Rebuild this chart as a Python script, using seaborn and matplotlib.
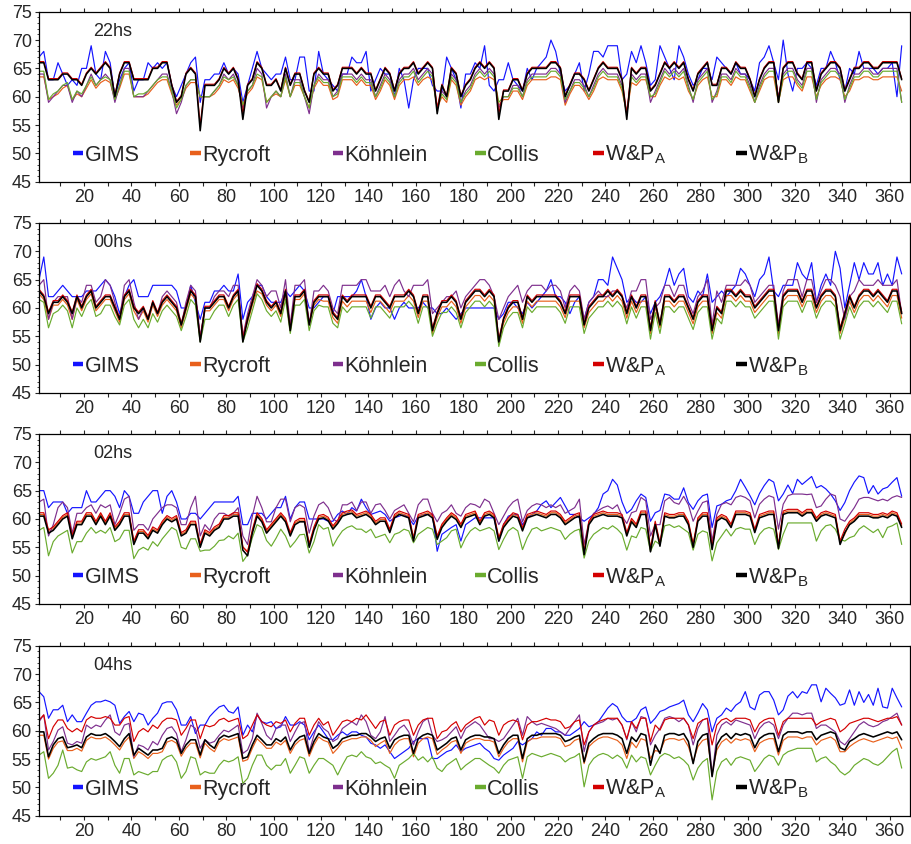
import matplotlib
matplotlib.use("Agg")
import matplotlib.pyplot as plt
import pandas as pd
import seaborn as sns
from matplotlib.lines import Line2D
from matplotlib.ticker import FixedLocator, MultipleLocator

# ---------------- data ----------------
DAYS = list(range(1, 366, 2))
SERIES = ["GIMS", "Rycroft", "Köhnlein", "Collis", "W&P_A", "W&P_B"]
LEGEND_LABELS = ["GIMS", "Rycroft", "Köhnlein", "Collis",
                 r"W&P$_\mathregular{A}$", r"W&P$_\mathregular{B}$"]
COLORS = ["#1414ff", "#e8601c", "#7e2f8e", "#6aab2e", "#d40000", "#000000"]
PANELS = ["22hs", "00hs", "02hs", "04hs"]
Y_TICKS = [45, 50, 55, 60, 65, 70, 75]
X_TICKS = list(range(10, 361, 10))

# ---- 22hs ----
G22 = [67,68,63,63,66,64,62,63,62,65, 65,69,64,63,68,66,60,63,65,66, 61,63,63,66,65,66,65,66,62,60, 62,64,66,67,59,63,63,64,64,66, 64,65,64,59,62,65,68,65,64,63, 64,64,67,63,63,67,67,61,61,68,
       64,63,62,61,64,64,67,66,66,68, 61,63,65,64,64,60,65,63,58,63, 65,65,65,62,61,61,67,65,63,58, 64,64,66,65,69,62,61,63,63,66, 63,62,61,65,63,65,66,67,70,68, 64,61,62,64,66,61,64,68,68,67, 69,69,69,
       63,64,68,66,69,66,62,63,69,67, 65,63,69,67,64,62,63,65,65,63, 67,66,65,64,66,64,64,63,61,66, 67,69,66,63,70,64,61,65,65,66, 65,62,65,65,68,66,63,61,65,64, 68,65,65,65,64,65,65,66,60,69]
R22 = [63.5,63.5,59.5,60,60.5,61.5,62,59.5,60.5,60, 61.5,63,61.5,62.5,63,62.5,59.5,61.5,64,64, 60,60,60,60.5,61.5,62.5,63,63,60.5,58.5, 59.5,61.5,62.5,62.5,60,60,60,60.5,61.5,63, 62.5,63,61.5,58.5,60.5,61.5,63.5,63,59,60, 60.5,60,63,60,62,62,60,58,61.5,63,
       62,62,59.5,60,63,63,63,62,63,62, 62,59.5,61,63,62,59.5,62,63,63,63.5, 62,63,63.5,63,58,60,59,63,62,58.5, 60,61,63,63.5,63,63.5,63,58.5,59.5,59.5, 61,61,59.5,62,63,63,63,63,63.5,63.5, 63,58.5,60.5,62,62,61,59.5,61,63,63.5, 63,63,63,
       61,57,62.5,62,63,63,60,60,62,63.5, 63,63.5,63,63.5,61,59.5,62,63,63.5,60, 60,63,63,62,63.5,63,63,61,59,61, 63,63.5,63.5,59,63,63.5,63.5,62,61,63.5, 63.5,60,62,63,63.5,63.5,63,60,61,63, 63,63.5,63.5,63,63,63.5,63.5,63.5,63.5,61]
K22 = [64,64,59,60,61,62,62,59,61,60, 62,64,62,63,64,63,59,62,65,65, 60,60,60,61,62,63,64,64,61,57, 59,62,63,63,60,60,60,61,62,64, 63,64,62,58,61,62,65,64,58,60, 61,60,64,60,63,63,60,57,62,64,
       63,63,60,61,64,64,64,63,64,63, 63,60,62,64,63,60,63,64,64,65, 63,64,65,64,58,61,60,64,63,59, 61,62,64,65,64,65,64,58,60,60, 62,62,60,63,64,64,64,64,65,65, 64,59,61,63,63,62,60,62,64,65, 64,64,64,
       62,57,64,63,64,64,59,61,63,65, 64,65,64,65,62,59,63,64,65,59, 61,64,64,63,65,64,64,62,59,62, 64,65,65,60,64,65,65,63,62,65, 65,59,63,64,65,65,64,59,62,64, 64,65,65,64,64,65,65,65,65,59]
C22 = [64.5,64.5,59.5,60.5,61,62,62.5,59.5,61,60.5, 62,63.5,62,63,63.5,63,59.5,62,64.5,64.5, 60,60.5,60.5,61,62,63,63.5,63.5,61,58, 59.5,62,63,63,60,60,60,61,62,63.5, 63,63.5,62,58.5,61,62,64,63.5,59,60, 61,60,63.5,60,62.5,62.5,60,58,62,63.5,
       62.5,62.5,60,60.5,63.5,63.5,63.5,62.5,63.5,62.5, 62.5,60,61.5,63.5,62.5,60,62.5,63.5,63.5,64.5, 62.5,63.5,64.5,63.5,58,60.5,59.5,63.5,62.5,59, 60.5,61.5,63.5,64.5,63.5,64.5,63.5,59,60,60, 61.5,61.5,60,62.5,63.5,63.5,63.5,63.5,64.5,64.5, 63.5,59.5,61,62.5,62.5,61.5,60,61.5,63.5,64.5, 63.5,63.5,63.5,
       61.5,57,63.5,62.5,63.5,63.5,60,60.5,62.5,64.5, 63.5,64.5,63.5,64.5,61.5,59.5,62.5,63.5,64.5,59.5, 60.5,63.5,63.5,62.5,64.5,63.5,63.5,61.5,59,61.5, 63.5,64.5,64.5,59,63.5,64.5,64.5,62.5,61.5,64.5, 64.5,59.5,62.5,63.5,64.5,64.5,63.5,59.5,61.5,63.5, 63.5,64.5,64.5,63.5,63.5,64.5,64.5,64.5,64.5,59]
A22 = [66.2,66.2,63.2,63.2,63.2,64.2,64.2,63.2,63.2,62.2, 64.2,65.2,64.2,65.2,66.2,65.2,60.2,64.2,66.2,66.2, 63.2,63.2,63.2,63.2,65.2,65.2,66.2,66.2,62.2,59.2, 60.2,64.2,65.2,64.2,55,62.2,62.2,62.2,63.2,65.2, 64.2,65.2,63.2,57,62.2,63.2,66.2,65.2,62.2,62.2, 63.2,61.2,65.2,62.2,64.2,64.2,61.2,59.2,64.2,65.2,
       64.2,64.2,61.2,62.2,65.2,65.2,65.2,64.2,65.2,64.2, 64.2,61.2,63.2,65.2,64.2,61.2,64.2,65.2,65.2,66.2, 64.2,65.2,66.2,65.2,58,62.2,60.2,65.2,64.2,60.2, 62.2,63.2,65.2,66.2,65.2,66.2,65.2,57,61.2,61.2, 63.2,63.2,61.2,64.2,65.2,65.2,65.2,65.2,66.2,66.2, 65.2,60.2,62.2,64.2,64.2,63.2,61.2,63.2,65.2,66.2, 65.2,65.2,65.2,
       63.2,57,65.2,64.2,65.2,65.2,61.2,62.2,64.2,66.2, 65.2,66.2,65.2,66.2,63.2,61.2,64.2,65.2,66.2,62.2, 62.2,65.2,65.2,64.2,66.2,65.2,65.2,63.2,60.2,63.2, 65.2,66.2,66.2,59.5,65.2,66.2,66.2,64.2,63.2,66.2, 66.2,61.2,64.2,65.2,66.2,66.2,65.2,61.2,63.2,65.2, 65.2,66.2,66.2,65.2,65.2,66.2,66.2,66.2,66.2,63.2]
B22 = [66,66,63,63,63,64,64,63,63,62, 64,65,64,65,66,65,60,64,66,66, 63,63,63,63,65,65,66,66,62,59, 60,64,65,64,54,62,62,62,63,65, 64,65,63,56,62,63,66,65,62,62, 63,61,65,62,64,64,61,59,64,65,
       64,64,61,62,65,65,65,64,65,64, 64,61,63,65,64,61,64,65,65,66, 64,65,66,65,57,62,60,65,64,60, 62,63,65,66,65,66,65,56,61,61, 63,63,61,64,65,65,65,65,66,66, 65,60,62,64,64,63,61,63,65,66, 65,65,65,
       63,56,65,64,65,65,61,62,64,66, 65,66,65,66,63,61,64,65,66,62, 62,65,65,64,66,65,65,63,60,63, 65,66,66,59,65,66,66,64,63,66, 66,61,64,65,66,66,65,61,63,65, 65,66,66,65,65,66,66,66,66,63]

# ---- 00hs ----
G00 = [65,69,62,62,63,64,63,62,62,62, 63,63,63,64,65,64,62,59,62,64, 65,62,62,62,64,64,64,64,64,63, 60,60,64,61,58,61,61,63,63,64, 63,63,66,58,61,62,64,64,62,61, 61,61,63,62,63,64,63,60,60,61,
       62,62,59,62,62,62,62,63,65,62, 58,60,61,60,60,58,60,61,60,60, 60,61,60,60,59,59,60,59,58,59, 60,60,60,60,60,60,60,58,59,61, 61,60,59,61,60,61,62,63,65,62, 62,61,59,61,62,58,61,62,65,65, 64,69,67,
       65,61,62,61,61,62,59,61,62,64, 67,64,66,67,62,61,63,62,66,61, 62,63,62,63,64,67,66,64,62,65, 66,69,63,62,64,64,64,68,66,65, 68,61,64,66,64,70,67,60,64,68, 65,68,66,66,68,64,66,64,69,66]
R00 = [62.5,61.5,58,60.5,60.5,61.5,60.5,58,61.5,59.5, 61.5,62.5,59.5,60.5,61.5,61.5,59.5,57.5,61.5,62.5, 59.5,58,59.5,57.5,60.5,58.5,60.5,61.5,60.5,59.5, 56.5,59.5,62.5,61.5,54.5,59.5,59.5,60.5,61.5,61.5, 59.5,61.5,62.5,55,57.5,60.5,63,62.5,60.5,59.5, 60.5,58.5,62.5,56,61.5,61.5,62.5,57,60.5,61.5,
       61.2,61.2,58.3,57.3,61.2,60.2,61.2,61.2,61.2,61.2, 59.2,61.2,61.2,60.2,59.2,61.2,61.2,61.2,62.2,61.2, 58.3,61.2,61.2,55.5,58.3,60.2,60.2,61.2,60.2,57.3, 60.2,61.2,62.2,62.2,61.2,62.2,61.2,53.8,57.3,59.2, 60.2,60.2,57.3,61.2,60.2,61.2,61.2,61.2,61.2,61.2, 60.2,58.3,61.2,61.2,61.2,56.5,59.2,60.2,61.2,61.2, 62.2,61.2,62.2,
       61.2,58.2,61.2,59.2,61.2,61.2,55.5,60.2,56.5,61.2, 61.2,60.2,61.2,61.2,59.2,57.2,60.2,61.2,61.2,55.5, 59.2,58.2,62.2,62.2,61.2,62.2,61.2,61.2,59.2,60.2, 61.2,62.2,62.2,55.5,61.2,62.2,62.2,62.2,60.2,62.2, 62.2,59.2,61.2,62.2,62.2,61.2,55.5,58.2,61.2,59.2, 61.2,62.2,62.2,61.2,62.2,61.2,60.2,62.2,62.2,58.2]
K00 = [64,65,58,61,62,62,62,58,62,61, 64,64,61,62,65,64,61,58,64,65, 61,58,60,58,61,59,62,63,62,61, 57,61,64,63,55,60,60,62,63,63, 62,64,64,55,59,62,65,64,62,63, 63,60,65,57,64,64,65,57,63,63,
       64,63,60,59,64,64,64,64,65,65, 63,63,63,64,62,64,65,63,62,64, 64,64,65,59,60,61,62,62,63,60, 62,63,64,65,65,64,62,58,60,62, 63,64,61,63,64,64,64,63,64,64, 63,60,63,64,63,58,61,62,63,62, 62,63,63,
       62,60,63,63,65,65,58,60,61,64, 64,62,64,64,61,59,62,63,65,57, 63,61,64,64,64,64,65,64,61,62, 63,64,64,57,63,65,65,65,62,65, 65,61,63,65,65,64,62,58,62,63, 65,64,64,64,65,64,64,64,65,59]
C00 = [61.5,61,56.5,59,59.5,60.5,59.5,56.5,60,58.5, 60.5,61.5,58.5,59,60.5,60.5,58.5,57,60.5,61.5, 58,56.5,58,56.5,59,57.5,59.5,60.5,59.5,58.5, 56,58.5,61.5,60.5,54,58,58,59.5,60.5,60.5, 58.5,60.5,61.5,54,56.5,59.5,62.5,61.5,59.5,58.5, 59.5,57.5,61.5,55.5,60.5,60.5,61.5,56,59.5,60.5,
       60.2,60.2,57.3,56.5,60.2,59.2,60.2,60.2,60.2,60.2, 58.2,60.2,60.2,59.2,58.2,60.2,60.2,60.2,61.2,60.2, 57.3,60.2,60.2,55,57.3,59.2,59.2,60.2,59.2,56.5, 59.2,60.2,61.2,61.2,60.2,61.2,60.2,53.2,56.5,58.2, 59.2,59.2,56.5,60.2,59.2,60.2,60.2,60.2,60.2,60.2, 59.2,57.3,60.2,60.2,60.2,55.5,58.2,59.2,60.2,60.2, 61.2,60.2,61.2,
       60.2,57.2,60.2,58.2,60.2,60.2,54.5,59.2,55.5,60.2, 60.2,59.2,60.2,60.2,58.2,56.2,59.2,60.2,60.2,54.5, 58.2,57.2,61.2,61.2,60.2,61.2,60.2,60.2,58.2,59.2, 60.2,61.2,61.2,54.5,60.2,61.2,61.2,61.2,59.2,61.2, 61.2,58.2,60.2,61.2,61.2,60.2,54.5,57.2,60.2,58.2, 60.2,61.2,61.2,60.2,61.2,60.2,59.2,61.2,61.2,57.2]
A00 = [63.3,62.3,59.3,61.3,61.3,62.3,61.3,59.3,62.3,60.3, 62.3,63.3,60.3,61.3,62.3,62.3,60.3,58.3,62.3,63.3, 60.3,59.3,60.3,58.3,61.3,59.3,61.3,62.3,61.3,60.3, 57.3,60.3,63.3,62.3,54.5,60.3,60.3,61.3,62.3,62.3, 60.3,62.3,63.3,54.8,58.3,61.3,64.3,63.3,61.3,60.3, 61.3,59.3,63.3,56.3,62.3,62.3,63.3,57.3,61.3,62.3,
       62.3,62.3,59.3,58.3,62.3,61.3,62.3,62.3,62.3,62.3, 60.3,62.3,62.3,61.3,60.3,62.3,62.3,62.3,63.3,62.3, 59.3,62.3,62.3,56.5,59.3,61.3,61.3,62.3,61.3,58.3, 61.3,62.3,63.3,63.3,62.3,63.3,62.3,54.5,58.3,60.3, 61.3,61.3,58.3,62.3,61.3,62.3,62.3,62.3,62.3,62.3, 61.3,59.3,62.3,62.3,62.3,57.3,60.3,61.3,62.3,62.3, 63.3,62.3,63.3,
       62.3,59.3,62.3,60.3,62.3,62.3,56.5,61.3,57.3,62.3, 62.3,61.3,62.3,62.3,60.3,58.3,61.3,62.3,62.3,56.5, 60.3,59.3,63.3,63.3,62.3,63.3,62.3,62.3,60.3,61.3, 62.3,63.3,63.3,56.5,62.3,63.3,63.3,63.3,61.3,63.3, 63.3,60.3,62.3,63.3,63.3,62.3,56.5,59.3,62.3,60.3, 62.3,63.3,63.3,62.3,63.3,62.3,61.3,63.3,63.3,59.3]
B00 = [63,62,59,61,61,62,61,59,62,60, 62,63,60,61,62,62,60,58,62,63, 60,59,60,58,61,59,61,62,61,60, 57,60,63,62,54,60,60,61,62,62, 60,62,63,54,58,61,64,63,61,60, 61,59,63,56,62,62,63,57,61,62,
       62,62,59,58,62,61,62,62,62,62, 60,62,62,61,60,62,62,62,63,62, 59,62,62,56,59,61,61,62,61,58, 61,62,63,63,62,63,62,54,58,60, 61,61,58,62,61,62,62,62,62,62, 61,59,62,62,62,57,60,61,62,62, 63,62,63,
       62,59,62,60,62,62,56,61,57,62, 62,61,62,62,60,58,61,62,62,56, 60,59,63,63,62,63,62,62,60,61, 62,63,63,56,62,63,63,63,61,63, 63,60,62,63,63,62,56,59,62,60, 62,63,63,62,63,62,61,63,63,59]

# ---- 02hs ----
G02 = [65,65,62,63,63,63,61,62,62,62, 65,63,63,64,65,65,64,62,65,64, 61,61,63,64,65,65,61,64,65,63, 60,60,61,61,60,61,62,63,63,63, 63,63,64,59,59,61,61,61,60,61, 62,62,64,60,62,63,63,60,60,60,
       60,59.6,59.6,60.8,61.4,60.8,62,61.4,63.5,62, 60.8,61.1,61.4,60.8,59.6,60.2,60.5,60.8,60.2,59, 60.5,60.8,60.8,60.8,54.3,57.3,57.9,58.5,59,56.1, 59,59.6,60.2,60.2,60.2,60.2,60.2,56.1,59,60.5, 60.8,60.8,59,60.2,60.8,61.4,62.6,63.2,62,62.9, 63.8,62.3,60.8,60.8,60.2,59.6,60.2,60.8,62,64.4, 65,67,66,
       63,61,61.7,63.2,64.4,63.8,59.6,61.1,61.5,64.4, 64.2,63.5,63.5,65.5,62.9,61.7,63.2,64.1,64.4,58.5, 62.3,62.6,63.2,63.5,65,67,65.6,64.1,62.5,64.5, 65.9,67,66.5,63.2,64.4,66,64.5,67,66.1,66.8, 67.5,65.5,65.9,65.3,64.4,63.2,61.5,62.9,65,66.5, 67.6,67.3,64.5,65.9,64.4,65.3,65.6,66.5,67.3,64]
R02 = [60.8,60.8,57.8,58.3,59.3,60.3,60.8,56.8,59.3,59.3, 60.8,60.8,59.3,60.8,59.3,60.8,58.3,59.3,60.8,60.8, 55.8,57.8,57.8,56.8,58.3,57.8,59.3,60.3,59.8,60.3, 57.3,57.8,59.3,59.3,55.3,57.8,57.3,58.3,58.8,60.3, 60.3,60.8,60.8,55,54.3,57.8,60.8,59.8,57.8,58.8, 59.8,60.8,59.8,57.3,59.3,59.8,59.8,55.3,58.3,60.3,
       60.5,60,58.5,59.5,60.8,61.1,61.3,60.5,60.8,61.1, 60.5,59.3,59.9,59.9,57.9,60.5,61.1,60.8,60.5,56.4, 60.5,60.8,61.1,60.5,56.7,58.8,59.9,60.8,60.2,58.8, 60.5,60.8,61.1,59.3,60.8,61.1,60.5,56.4,58.8,59.9, 60.8,60.5,58.2,60.5,60.8,61.1,60.8,60.5,61.1,61.1, 60.5,59.3,59.9,60.5,60.8,54,59.3,60.5,60.8,61.1, 60.8,60.8,60.8,
       60.5,57.3,59.8,58.8,61.1,61.1,54.5,59.3,55.5,60.8, 60.5,60.5,60.8,60.8,59.3,55.3,59.9,60.8,60.8,54.9, 59.9,60.5,60.1,58.8,61.1,61.1,61.1,60.8,57.9,60.5, 60.8,61.1,61.1,55.1,61.1,61.4,61.4,61.4,60.8,61.4, 61.4,59.9,60.8,61.1,60.8,60.5,55.8,57.3,59.3,59.9, 60.8,60.8,60.8,60.5,60.5,60.8,60.5,61.1,60.8,58.8]
K02 = [63,63.5,57,59,62,63,62,57.5,61,61, 62,62.5,61,62.5,62,62.5,59,61,63.5,64, 58,59,59,58,60,61,62,62.5,62.5,62, 59,59,62,64,57,59,58,60,61,61, 60.5,61,62,57,55.5,60.5,64,62,59.5,59.5, 62,63.5,63.5,59.5,62,62.5,62,57.5,60.5,62.5,
       63,62,60,59.5,62.5,62.5,63,61.5,63,63, 61,62.5,62.7,61.5,60,61.5,62,62.5,61,59.5, 62.5,63.5,63.5,61,59.5,61,61.5,62.5,61,60.5, 62,62.7,62.5,62,63.5,63,61,59,60.5,62, 63,63.5,59.5,61.5,62.3,62.7,62.5,62,62.5,62, 62.5,61,61.5,62,63.5,55.5,59.5,61,61.5,62, 62.3,61.8,62.5,
       60.5,59.2,61.1,61.4,63.8,63.2,57,59,59,63.2, 63.8,62.9,62.6,64,62.5,59.6,61.4,62.9,63.2,56.1, 60.8,62.6,62.9,62.5,63.8,64.1,63.8,63.2,60.2,62.6, 63.5,64.1,63.8,58.2,62.6,64.1,64.4,64.4,64.4,64.3, 64.4,62,62.3,63.5,64.4,64.1,60,59.6,60.8,62, 63.5,63.8,63.8,63.5,63.2,63.5,63.2,63.8,64.1,63.8]
C02 = [58,58.5,53.5,56,57,57.5,58,54,56,56, 57.5,58.5,57.5,58,57.5,58.5,56,56.5,58,58, 53,54.5,55,54.5,56,55.2,56.5,57.5,58.5,58, 55,54.7,56.5,56.5,54.3,54.5,54.5,55.2,56.2,56.3, 57,56.5,57.5,52.5,53.7,56.7,59,58.5,56.2,55.2, 56.6,58.2,57,55,56,57.2,57.3,54,56,59,
       58.2,58.5,55.2,56.7,57.9,58.5,58.8,58.2,58.2,57.6, 58.2,56.7,57,57.3,55.8,57.3,57.6,58.2,57.9,55.8, 57.3,57.9,58.5,58.2,55.5,56.1,56.7,57.9,58.2,54.9, 56.7,57.9,58.5,57.9,58.2,58.5,57.9,54.6,56.4,57.9, 58.5,57.9,54.6,56.7,58.2,58.5,57.9,58.2,58.5,58.2, 57.9,56.4,57.3,57.9,58.2,53.1,56.1,57.3,57.9,58.5, 58.2,58.8,58.2,
       57.3,54.5,57,56.7,58.5,58.2,54.3,56.1,55.5,58.8, 59,58.5,58.8,58.2,57.6,54.5,57.3,57.9,57.6,52.6, 55.8,57,58.2,57,58.2,58.5,58.2,58.2,55.5,57.3, 58.2,58.5,58.2,54.6,57.3,59.3,59.3,59.3,59.3,59.3, 59.3,56.1,57.9,58.8,59,58.2,56.4,56.1,56.7,57, 58.2,58.8,58.2,57.6,58.2,56.7,58.5,58.8,59.3,55.5]
A02 = [61.1,61.1,58.1,58.6,59.6,60.6,61.1,57.1,59.6,59.6, 61.1,61.1,59.6,61.1,59.6,61.1,58.6,59.6,61.1,61.1, 56.1,58.1,58.1,57.1,58.6,58.1,59.6,60.6,60.1,60.6, 57.6,58.1,59.6,59.6,55.6,58.1,57.6,58.6,59.1,60.6, 60.6,61.1,61.1,55.1,54.1,58.1,61.1,60.1,58.1,59.1, 60.1,61.1,60.1,57.6,59.6,60.1,60.1,55.6,58.6,60.6,
       60.8,60.3,58.8,59.8,61.1,61.4,61.6,60.8,61.1,61.4, 60.8,59.6,60.2,60.2,58.2,60.8,61.4,61.1,60.8,56.7, 60.8,61.1,61.4,60.8,57,59.1,60.2,61.1,60.5,59.1, 60.8,61.1,61.4,59.6,61.1,61.4,60.8,56.7,59.1,60.2, 61.1,60.8,58.5,60.8,61.1,61.4,61.1,60.8,61.4,61.4, 60.8,59.6,60.2,60.8,61.1,54.3,59.6,60.8,61.1,61.4, 61.1,61.1,61.1,
       60.8,57.6,60.1,59.1,61.4,61.4,54.8,59.6,55.8,61.1, 60.8,60.8,61.1,61.1,59.6,55.6,60.2,61.1,61.1,55.2, 60.2,60.8,60.4,59.1,61.4,61.4,61.4,61.1,58.2,60.8, 61.1,61.4,61.4,55.4,61.4,61.7,61.7,61.7,61.1,61.7, 61.7,60.2,61.1,61.4,61.1,60.8,56.1,58.2,59.6,60.2, 61.1,61.1,61.1,60.8,60.8,61.1,60.8,61.4,61.1,59.1]
B02 = [60.5,60.5,57.5,58,59,60,60.5,56.5,59,59, 60.5,60.5,59,60.5,59,60.5,58,59,60.5,60.5, 55.5,57.5,57.5,56.5,58,57.5,59,60,59.5,60, 57,57.5,59,59,55,57.5,57,58,58.5,60, 60,60.5,60.5,54.5,53.5,57.5,60.5,59.5,57.5,58.5, 59.5,60.5,59.5,57,59,59.5,59.5,55,58,60,
       60.2,59.7,58.2,59.2,60.5,60.8,61,60.2,60.5,60.8, 60.2,59,59.6,59.6,57.6,60.2,60.8,60.5,60.2,56.1, 60.2,60.5,60.8,60.2,56.4,58.5,59.6,60.5,59.9,58.5, 60.2,60.5,60.8,59,60.5,60.8,60.2,56.1,58.5,59.6, 60.5,60.2,57.9,60.2,60.5,60.8,60.5,60.2,60.8,60.8, 60.2,59,59.6,60.2,60.5,53.7,59,60.2,60.5,60.8, 60.5,60.5,60.5,
       60.2,57,59.5,58.5,60.8,60.8,54.2,59,55.2,60.5, 60.2,60.2,60.5,60.5,59,55,59.6,60.5,60.5,54.6, 59.6,60.2,59.8,58.5,60.8,60.8,60.8,60.5,57.6,60.2, 60.5,60.8,60.8,54.8,60.8,61.1,61.1,61.1,60.5,61.1, 61.1,59.6,60.5,60.8,60.5,60.2,55.5,57.6,59,59.6, 60.5,60.5,60.5,60.2,60.2,60.5,60.2,60.8,60.5,58.5]

# ---- 04hs ----
G04 = [66.9,66,62.2,63.7,63.7,64.5,61.6,62.8,61.6,61.6, 63.1,64.5,65.1,65.1,65.4,65.1,64.5,61.3,62.5,63.4, 61.6,63.1,62.8,61,62.2,63.1,64.8,65.1,65.1,63.7, 61,61,62.5,59.5,61,61,62.5,63.4,64.2,64.5, 63.4,63.1,64.2,59.2,61,59.8,62.8,61.6,61.3,61.6, 60.4,60.7,62.5,61,61,61.6,61,58.4,59.8,61,
       59.8,58.6,58.4,59.2,59.8,59.2,59.8,59.8,59.2,58.9, 57.8,57.5,56.9,57.5,56.3,55.1,55.7,56.3,56.9,58.1, 58.6,58.6,58.6,55.1,55.1,55.7,56.3,56.6,57.5,56.3, 56.9,57.2,57.5,57.8,56.9,56.3,55.1,54.8,55.7,56.3, 56.9,58.1,57.5,58.1,58.6,59.8,59.2,60.4,60.4,59.8, 59.8,59.2,59.2,59.8,60.4,61.6,60.7,61,61.6,62.8, 64,64.8,64.2,
       62.5,61.6,61.6,62.2,63.7,64.2,61.3,62.2,63.4,63.7, 64.2,64.5,64.8,65.4,62.8,61.6,63.1,64.8,63.7,59.8, 62.2,62.8,64,63.4,64.5,65.1,66.9,64.2,63.7,66.3, 66.9,66.9,65.4,62.8,63.7,66.1,66.9,65.8,66.9,66.6, 68.1,68.1,65.1,67.5,66.6,65.8,64.5,64.8,67.2,64.5, 66.9,65,66.4,64.5,67.5,64.2,64,67.5,65.8,64.2]
R04 = [59.2,59.2,55,56.9,58,58.2,56.5,56.5,56.9,56.4, 58.3,58.9,58.6,58.6,58.9,58.3,57.5,56.6,58,58.9, 55.1,56.3,55.8,55.1,56,56,56.3,58,58.3,57.8, 55.5,56.9,57.8,57.8,55.2,57.8,56.9,56.3,58,58.6, 58.3,58.6,58.9,54.6,54.9,56.9,58.6,57.8,56.9,56.9, 58,57.5,58.3,56,57.5,58.3,58.6,55.5,57.5,58.9,
       58.3,58,56,56.9,58,58.3,58.6,58.6,58.9,58.9, 58.3,57.2,57.8,58.3,56,57.5,58.3,58.6,58.6,55.4, 57.8,58.6,58.9,58.6,55.8,56.6,57.2,58,58.3,56, 57.8,58.3,58.6,58.6,58.3,58.3,58,55.4,56.9,58, 58.6,58.6,54.5,58,58.6,58.6,58.9,58.9,58.9,58.9, 58.6,57.2,57.5,58.3,58.6,54.2,57.2,58,58.6,58.9, 58.9,58.6,58.3,
       57.5,55.1,58,57,58.6,58.3,55.1,56.5,56.3,58.3, 58.6,58.6,58.3,58.6,57.2,54.5,57.2,58.3,58.6,52.5, 56.6,58,58.6,57.8,58.6,58.3,58.6,58.3,56.3,57.8, 58.3,58.6,58.6,55.7,58.3,58.9,58.9,58.9,58.6,58.9, 58.9,57.5,58.3,58.6,58.9,58.3,56.3,56.3,57.2,57.8, 58.3,58.6,58.3,58,58.3,58.6,58.9,58.6,58.9,56.9]
K04 = [61.6,62.8,56.6,58.1,60.1,60.7,57.8,57.5,58.1,57.8, 61,60.4,61,60.7,61.9,62.8,59.8,59.2,61,61.3, 55.4,57.5,57.2,56.6,58.1,57.5,59.2,60.4,60.7,59.5, 56.3,58.4,61,60.4,56.9,58.4,57.8,58.1,59.2,60.1, 59.8,60.4,61,56,56.6,58.6,63.1,61.3,59.2,58.4, 60.4,61,61,58.1,59.8,61.3,61.6,56.3,59.2,61.6,
       60.4,59.8,58.1,58.6,60.4,61,61.6,61,62.8,61.6, 59.2,58.6,59.8,62.5,58.1,59.2,60.4,61,59.8,57.5, 59.8,61.6,62.2,59.2,58.1,58.4,58.9,59.8,60.7,58.6, 60.4,61,61.6,61,59.8,58.6,58.6,58.1,58.6,59.8, 61,62.2,59.2,62.5,61.6,61,61.3,61,60.7,60.4, 59.8,59.2,60.4,61.6,62.8,56.3,59.8,61,61.3,61.6, 62.2,61.9,62.2,
       61,58.4,61.6,59.8,62.5,62.2,57.5,59.2,60.4,62.2, 62.5,62.2,61.6,62.2,61,57.5,60.4,61.9,62.2,52, 59.2,61,61.6,61,61.9,61.6,61.3,61,58.6,60.4, 61.3,61.6,61,58.6,61,62.2,63.1,63.1,62.8,63.1, 63.1,60.4,61,61,60.4,59.8,58.1,57.5,58.6,59.8, 61,61.6,61,60.7,61,61.6,61.9,62.5,63.1,61]
C04 = [55.7,56.3,51.6,52.5,53.9,56.6,53.4,53.6,53.1,52.8, 54.5,55.1,54.8,55.1,55.4,56.3,53.9,52.5,55.1,55.1, 52.2,52.8,52.5,52.2,52.8,52.8,54.8,55.4,55.7,54.5, 51.6,52.8,55.4,55.1,52.2,52.8,52.5,52.5,53.9,54.8, 54.5,54.8,55.4,50.7,51.6,53.9,55.7,55.7,53.9,53.1, 53.9,53.9,55.1,52.5,53.9,55.4,55.1,52.5,53.9,55.1,
       55.1,54.5,53.9,52.2,53.9,55.4,55.7,55.4,56.3,55.4, 55.1,54.2,54.5,53.9,53.4,51.6,53.9,54.5,55.1,56, 54.8,55.4,54.5,55.4,53.4,52.8,53.9,54.5,55.1,53.1, 53.9,54.5,55.1,55.1,54.5,53.9,53.4,52.5,53.9,54.8, 55.1,55.4,51.6,55.4,56,55.7,55.4,55.7,56,55.7, 55.4,54.5,55.1,55.4,56,50.1,53.9,55.1,55.7,56, 55.7,55.1,55.7,
       55.1,53.4,55.7,54.5,55.4,55.1,52.2,53.9,55.4,56, 55.7,55.1,55.4,54.8,53.9,51.3,53.4,54.5,55.1,47.8, 52.8,54.5,55.1,53.9,55.1,55.4,55.1,54.8,52.8,53.9, 55.1,55.7,55.4,53.9,55.7,56.3,56.6,56.9,56.9,56.9, 56.9,54.5,55.1,55.4,54.5,53.9,52.8,52.2,52.8,53.9, 54.5,55.1,54.8,54.2,53.9,54.5,55.4,56.3,56.9,53.4]
A04 = [61.9,62.8,58.6,60.7,61.9,61.9,60.4,59.8,60.4,59.8, 61.9,62.5,62.2,62.2,62.5,62.2,61,61,62.2,62.5, 58.1,59.8,60.4,59.8,61,60.4,61.6,62.2,62.2,61.9, 59.2,60.4,61.9,61.9,58.6,61,60.7,61,61.9,62.2, 61.6,61.9,62.2,58.6,59.2,61,62.8,61.6,61,60.7, 61.6,61.3,61.9,59.8,61.3,62.2,62.2,59.2,61,62.2,
       61,61.6,59.2,60.4,61.6,61.9,61.6,62.2,61.9,62.8, 61.6,60.4,61.6,61.9,59.2,61,61.6,61.9,61.9,59.2, 61,61.9,62.2,62.2,58.6,59.8,60.1,61,61.6,59.8, 61,61.6,62.2,62.5,61,61.9,61.6,59.2,61,61.6, 61.9,61.6,58.4,61,61.6,61.6,61.9,62.2,61.9,61.9, 61.6,60.4,60.7,61.6,61.9,57.5,59.8,61,61.6,61.9, 62.2,62.2,62.2,
       61,58.6,61.6,60.4,62.2,62.2,58.1,61,60.1,61.9, 62.2,62.2,62.2,62.2,61,58.6,61.3,61.9,62.2,57.5, 61,61.9,62.2,61.6,62.2,62.2,62.2,61.9,59.8,61.3, 61.9,62.2,62.2,59.2,61.6,62.2,62.2,62.2,62.2,62.2, 62.2,61,61.6,61.9,62.2,61.9,59.8,60.4,61.3,61.6, 61.9,62.2,62.2,61.9,61.6,61.9,62.2,62.2,62.5,61]
B04 = [59.8,59.8,55.4,57.5,58.6,58.9,57,57.2,57.5,57, 58.9,59.5,59.2,59.2,59.5,58.9,58.1,57.2,58.6,59.5, 55.7,56.9,56.3,55.7,56.6,56.6,56.9,58.6,58.9,58.4, 56,57.5,58.4,58.4,55.7,58.4,57.5,56.9,58.6,59.2, 58.9,59.2,59.5,55.1,55.4,57.5,59.2,58.4,57.5,57.5, 58.6,58.1,58.9,56.6,58.1,58.9,59.2,56,58.1,59.5,
       58.9,58.6,56.9,57.5,58.6,58.9,59.2,59.2,59.5,59.5, 58.9,58.1,58.6,58.9,56.9,58.4,58.9,59.2,59.2,56, 58.6,59.2,59.5,59.2,56.6,57.2,57.8,58.6,58.9,56.6, 58.4,58.9,59.2,59.2,58.9,58.9,58.6,56,57.5,58.6, 59.2,59.2,55.1,58.6,59.2,59.2,59.5,59.5,59.5,59.5, 59.2,58.1,58.4,58.9,59.2,54.5,57.8,58.6,59.2,59.5, 59.5,59.5,59.2,
       58.6,56,58.9,58.1,59.5,59.2,53.9,57.5,56,59.2, 59.5,59.5,59.2,59.5,58.1,54.2,58.1,59.2,59.5,51.9, 57.5,58.9,59.5,58.6,59.5,59.2,59.5,59.2,57,58.6, 59.2,59.5,59.5,56.3,59.2,59.8,59.8,59.8,59.5,59.8, 59.8,58.4,59.2,59.5,59.8,59.5,57,56.6,58.1,58.6, 59.2,59.5,59.2,58.9,59.2,59.5,59.8,59.5,59.8,58.4]

DATA = {
    "22hs": [G22, R22, K22, C22, A22, B22],
    "00hs": [G00, R00, K00, C00, A00, B00],
    "02hs": [G02, R02, K02, C02, A02, B02],
    "04hs": [G04, R04, K04, C04, A04, B04],
}

# ---------------- style ----------------
sns.set_style("ticks")
plt.rcParams["font.family"] = ["Liberation Sans", "DejaVu Sans"]
plt.rcParams["mathtext.fontset"] = "custom"
plt.rcParams["mathtext.rm"] = "Liberation Sans"
plt.rcParams["axes.linewidth"] = 0.9

fig = plt.figure(figsize=(9.12, 8.44), dpi=100)
bottoms = [0.7847, 0.5344, 0.2844, 0.0335]
dash_x = [0.0387, 0.1734, 0.337, 0.5006, 0.6364, 0.8002]

for panel, bottom in zip(PANELS, bottoms):
    ax = fig.add_axes([0.0428, bottom, 0.955, 0.2014])
    frames = []
    for name, vals in zip(SERIES, DATA[panel]):
        n = min(len(vals), len(DAYS))
        frames.append(pd.DataFrame({"day": DAYS[:n], "value": vals[:n], "series": name}))
    df = pd.concat(frames, ignore_index=True)
    sns.lineplot(data=df, x="day", y="value", hue="series", hue_order=SERIES,
                 palette=COLORS, legend=False, linewidth=0.85, estimator=None,
                 sort=False, ax=ax)
    ax.lines[-1].set_linewidth(1.15)

    ax.set_xlim(1, 368.5)
    ax.set_ylim(45, 75)
    ax.set_xlabel("")
    ax.set_ylabel("")
    ax.xaxis.set_major_locator(FixedLocator(X_TICKS))
    ax.set_xticklabels([str(t) if t % 20 == 0 else "" for t in X_TICKS])
    ax.yaxis.set_major_locator(FixedLocator(Y_TICKS))
    ax.yaxis.set_minor_locator(MultipleLocator(1))
    ax.tick_params(axis="x", which="major", direction="out", length=3.2, width=0.8,
                   top=True, bottom=True, labelsize=13, pad=2)
    ax.tick_params(axis="y", which="major", direction="out", length=3.2, width=0.8,
                   left=True, right=False, labelsize=13, pad=2)
    ax.tick_params(axis="y", which="minor", direction="out", length=1.8, width=0.6,
                   left=True, right=False)
    for sp in ax.spines.values():
        sp.set_visible(True)
        sp.set_color("black")
        sp.set_linewidth(0.9)

    ax.text(0.0623, 0.857, panel, transform=ax.transAxes, fontsize=13,
            ha="left", va="baseline")

    for lab, col, x0 in zip(LEGEND_LABELS, COLORS, dash_x):
        ax.add_line(Line2D([x0, x0 + 0.0122], [0.17, 0.17], transform=ax.transAxes,
                           color=col, lw=3.2, solid_capstyle="butt"))
        ax.text(x0 + 0.0135, 0.1235, lab, transform=ax.transAxes, fontsize=15.5,
                ha="left", va="baseline")

fig.savefig("out.png", dpi=100)
